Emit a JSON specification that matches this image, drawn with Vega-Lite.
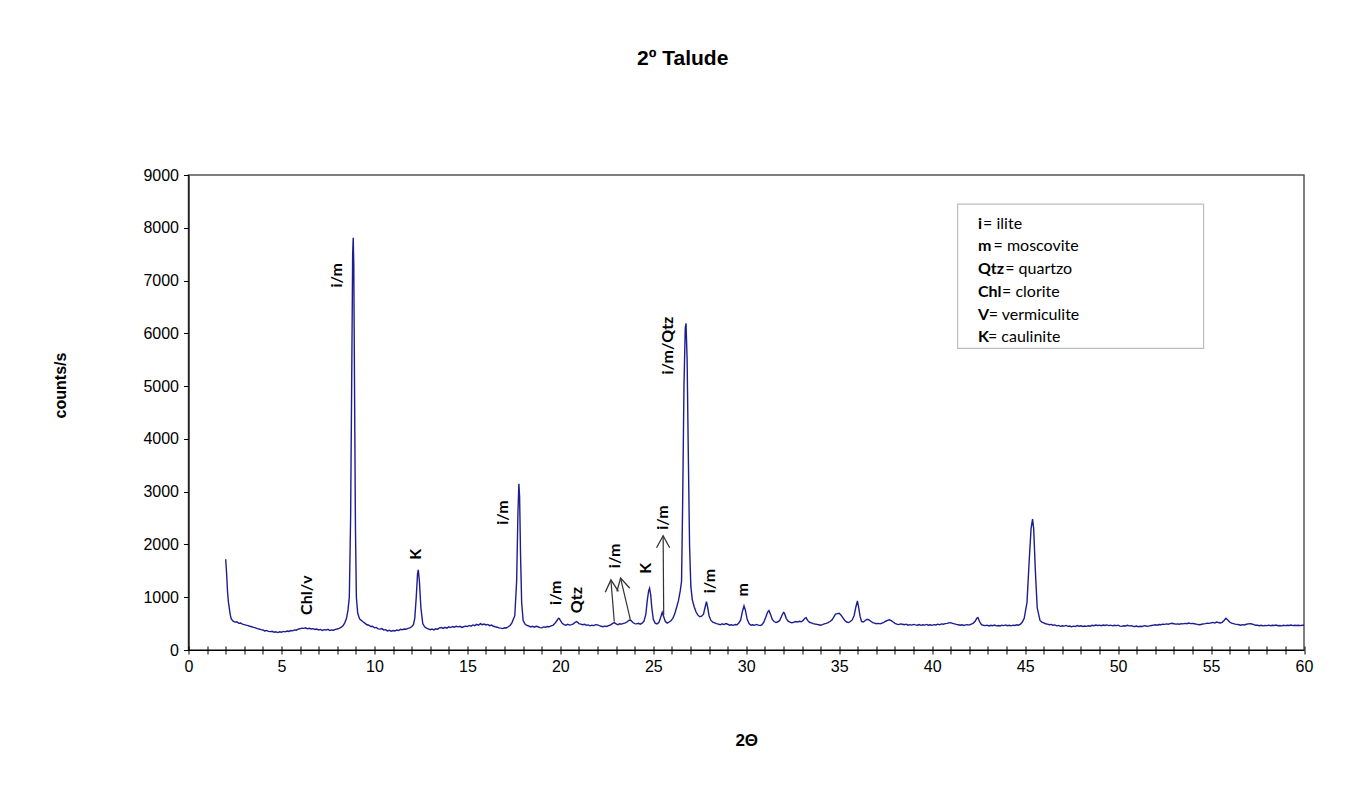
{
  "$schema": "https://vega.github.io/schema/vega-lite/v6.json",
  "width": 1115.5,
  "height": 475,
  "autosize": "none",
  "padding": {"left": 188.5, "top": 175, "right": 42, "bottom": 158},
  "background": "white",
  "config": {
    "view": {"stroke": "#555555", "strokeWidth": 1.5},
    "axis": {"grid": false, "domainColor": "black", "tickColor": "black", "labelColor": "black", "titleColor": "black"}
  },
  "title": {
    "text": "2º Talude",
    "font": "Liberation Sans",
    "fontSize": 21,
    "fontWeight": "bold",
    "color": "black",
    "anchor": "middle",
    "frame": "bounds",
    "offset": 98
  },
  "datasets": {
    "xrd": [
      {"theta": 2.0, "counts": 1720}, {"theta": 2.05, "counts": 1450}, {"theta": 2.1, "counts": 1100}, {"theta": 2.15, "counts": 900},
      {"theta": 2.2, "counts": 780}, {"theta": 2.25, "counts": 660}, {"theta": 2.3, "counts": 590},
      {"theta": 2.4, "counts": 545}, {"theta": 2.5, "counts": 528}, {"theta": 2.6, "counts": 535}, {"theta": 2.7, "counts": 505},
      {"theta": 2.8, "counts": 512}, {"theta": 2.9, "counts": 490}, {"theta": 3.0, "counts": 482}, {"theta": 3.1, "counts": 470},
      {"theta": 3.2, "counts": 462}, {"theta": 3.3, "counts": 450}, {"theta": 3.4, "counts": 441}, {"theta": 3.5, "counts": 428},
      {"theta": 3.6, "counts": 420}, {"theta": 3.7, "counts": 405}, {"theta": 3.8, "counts": 398}, {"theta": 3.9, "counts": 385},
      {"theta": 4.0, "counts": 380}, {"theta": 4.1, "counts": 362}, {"theta": 4.2, "counts": 370}, {"theta": 4.3, "counts": 352},
      {"theta": 4.4, "counts": 348}, {"theta": 4.5, "counts": 355}, {"theta": 4.6, "counts": 338}, {"theta": 4.7, "counts": 344},
      {"theta": 4.8, "counts": 330}, {"theta": 4.9, "counts": 345}, {"theta": 5.0, "counts": 338}, {"theta": 5.1, "counts": 352},
      {"theta": 5.2, "counts": 344}, {"theta": 5.3, "counts": 360}, {"theta": 5.4, "counts": 352}, {"theta": 5.5, "counts": 368},
      {"theta": 5.6, "counts": 362}, {"theta": 5.7, "counts": 380}, {"theta": 5.8, "counts": 375}, {"theta": 5.9, "counts": 395},
      {"theta": 6.0, "counts": 402}, {"theta": 6.1, "counts": 415}, {"theta": 6.2, "counts": 410}, {"theta": 6.3, "counts": 420},
      {"theta": 6.4, "counts": 402}, {"theta": 6.5, "counts": 412}, {"theta": 6.6, "counts": 398}, {"theta": 6.7, "counts": 405},
      {"theta": 6.8, "counts": 390}, {"theta": 6.9, "counts": 398}, {"theta": 7.0, "counts": 380}, {"theta": 7.1, "counts": 390},
      {"theta": 7.2, "counts": 372}, {"theta": 7.3, "counts": 385}, {"theta": 7.4, "counts": 378}, {"theta": 7.5, "counts": 392},
      {"theta": 7.6, "counts": 370}, {"theta": 7.7, "counts": 380}, {"theta": 7.8, "counts": 375}, {"theta": 7.9, "counts": 392},
      {"theta": 8.0, "counts": 398}, {"theta": 8.1, "counts": 410}, {"theta": 8.2, "counts": 428}, {"theta": 8.3, "counts": 455},
      {"theta": 8.4, "counts": 510}, {"theta": 8.5, "counts": 600}, {"theta": 8.58, "counts": 760}, {"theta": 8.65, "counts": 1000},
      {"theta": 8.72, "counts": 2500}, {"theta": 8.78, "counts": 5200}, {"theta": 8.83, "counts": 7500}, {"theta": 8.86, "counts": 7810},
      {"theta": 8.89, "counts": 7300}, {"theta": 8.93, "counts": 5000}, {"theta": 8.98, "counts": 2300}, {"theta": 9.03, "counts": 1000},
      {"theta": 9.1, "counts": 700}, {"theta": 9.2, "counts": 590}, {"theta": 9.3, "counts": 560}, {"theta": 9.4, "counts": 530},
      {"theta": 9.5, "counts": 505}, {"theta": 9.6, "counts": 478}, {"theta": 9.7, "counts": 470}, {"theta": 9.8, "counts": 445},
      {"theta": 9.9, "counts": 450}, {"theta": 10.0, "counts": 420}, {"theta": 10.1, "counts": 428}, {"theta": 10.2, "counts": 400},
      {"theta": 10.3, "counts": 395}, {"theta": 10.4, "counts": 405}, {"theta": 10.5, "counts": 380}, {"theta": 10.6, "counts": 385},
      {"theta": 10.7, "counts": 362}, {"theta": 10.8, "counts": 372}, {"theta": 10.9, "counts": 355}, {"theta": 11.0, "counts": 368},
      {"theta": 11.1, "counts": 360}, {"theta": 11.2, "counts": 378}, {"theta": 11.3, "counts": 370}, {"theta": 11.4, "counts": 392},
      {"theta": 11.5, "counts": 385}, {"theta": 11.6, "counts": 398}, {"theta": 11.7, "counts": 392}, {"theta": 11.8, "counts": 410},
      {"theta": 11.9, "counts": 418}, {"theta": 12.0, "counts": 440}, {"theta": 12.1, "counts": 480}, {"theta": 12.17, "counts": 600},
      {"theta": 12.25, "counts": 1000}, {"theta": 12.32, "counts": 1450}, {"theta": 12.36, "counts": 1520}, {"theta": 12.42, "counts": 1300},
      {"theta": 12.5, "counts": 800}, {"theta": 12.6, "counts": 500}, {"theta": 12.7, "counts": 440}, {"theta": 12.8, "counts": 415},
      {"theta": 12.9, "counts": 400}, {"theta": 13.0, "counts": 385}, {"theta": 13.1, "counts": 398}, {"theta": 13.2, "counts": 380},
      {"theta": 13.3, "counts": 402}, {"theta": 13.4, "counts": 395}, {"theta": 13.5, "counts": 420}, {"theta": 13.6, "counts": 425},
      {"theta": 13.7, "counts": 410}, {"theta": 13.8, "counts": 430}, {"theta": 13.9, "counts": 415}, {"theta": 14.0, "counts": 438},
      {"theta": 14.1, "counts": 425}, {"theta": 14.2, "counts": 445}, {"theta": 14.3, "counts": 432}, {"theta": 14.4, "counts": 450},
      {"theta": 14.5, "counts": 438}, {"theta": 14.6, "counts": 448}, {"theta": 14.7, "counts": 428}, {"theta": 14.8, "counts": 440},
      {"theta": 14.9, "counts": 452}, {"theta": 15.0, "counts": 445}, {"theta": 15.1, "counts": 465}, {"theta": 15.2, "counts": 452},
      {"theta": 15.3, "counts": 475}, {"theta": 15.4, "counts": 462}, {"theta": 15.5, "counts": 485}, {"theta": 15.6, "counts": 470},
      {"theta": 15.7, "counts": 500}, {"theta": 15.8, "counts": 480}, {"theta": 15.9, "counts": 492}, {"theta": 16.0, "counts": 475},
      {"theta": 16.1, "counts": 485}, {"theta": 16.2, "counts": 462}, {"theta": 16.3, "counts": 472}, {"theta": 16.4, "counts": 450},
      {"theta": 16.5, "counts": 440}, {"theta": 16.6, "counts": 432}, {"theta": 16.7, "counts": 420}, {"theta": 16.8, "counts": 415},
      {"theta": 16.9, "counts": 405}, {"theta": 17.0, "counts": 420}, {"theta": 17.1, "counts": 418}, {"theta": 17.2, "counts": 440},
      {"theta": 17.3, "counts": 465}, {"theta": 17.4, "counts": 520}, {"theta": 17.55, "counts": 650}, {"theta": 17.65, "counts": 1300},
      {"theta": 17.72, "counts": 2600}, {"theta": 17.77, "counts": 3150}, {"theta": 17.81, "counts": 2900}, {"theta": 17.86, "counts": 1800},
      {"theta": 17.92, "counts": 900}, {"theta": 18.0, "counts": 560}, {"theta": 18.1, "counts": 490}, {"theta": 18.2, "counts": 465},
      {"theta": 18.3, "counts": 455}, {"theta": 18.4, "counts": 438}, {"theta": 18.5, "counts": 450}, {"theta": 18.6, "counts": 432},
      {"theta": 18.7, "counts": 448}, {"theta": 18.8, "counts": 440}, {"theta": 18.9, "counts": 425}, {"theta": 19.0, "counts": 420},
      {"theta": 19.1, "counts": 438}, {"theta": 19.2, "counts": 430}, {"theta": 19.3, "counts": 445}, {"theta": 19.4, "counts": 440},
      {"theta": 19.5, "counts": 458}, {"theta": 19.6, "counts": 468}, {"theta": 19.7, "counts": 500}, {"theta": 19.8, "counts": 550},
      {"theta": 19.9, "counts": 600}, {"theta": 19.95, "counts": 595}, {"theta": 20.0, "counts": 560}, {"theta": 20.1, "counts": 505},
      {"theta": 20.2, "counts": 480}, {"theta": 20.3, "counts": 470}, {"theta": 20.4, "counts": 488}, {"theta": 20.5, "counts": 472},
      {"theta": 20.6, "counts": 482}, {"theta": 20.7, "counts": 495}, {"theta": 20.8, "counts": 525}, {"theta": 20.87, "counts": 540},
      {"theta": 20.95, "counts": 520}, {"theta": 21.0, "counts": 498}, {"theta": 21.1, "counts": 490}, {"theta": 21.2, "counts": 478},
      {"theta": 21.3, "counts": 488}, {"theta": 21.4, "counts": 468}, {"theta": 21.5, "counts": 475}, {"theta": 21.6, "counts": 458},
      {"theta": 21.7, "counts": 470}, {"theta": 21.8, "counts": 462}, {"theta": 21.9, "counts": 480}, {"theta": 22.0, "counts": 475},
      {"theta": 22.1, "counts": 462}, {"theta": 22.2, "counts": 450}, {"theta": 22.3, "counts": 440}, {"theta": 22.4, "counts": 452},
      {"theta": 22.5, "counts": 445}, {"theta": 22.6, "counts": 460}, {"theta": 22.7, "counts": 475}, {"theta": 22.8, "counts": 500},
      {"theta": 22.9, "counts": 520}, {"theta": 23.0, "counts": 495}, {"theta": 23.1, "counts": 480}, {"theta": 23.2, "counts": 498},
      {"theta": 23.3, "counts": 490}, {"theta": 23.4, "counts": 505}, {"theta": 23.5, "counts": 515}, {"theta": 23.6, "counts": 535},
      {"theta": 23.7, "counts": 565}, {"theta": 23.8, "counts": 560}, {"theta": 23.9, "counts": 520}, {"theta": 24.0, "counts": 500},
      {"theta": 24.1, "counts": 495}, {"theta": 24.2, "counts": 505}, {"theta": 24.3, "counts": 490}, {"theta": 24.4, "counts": 510},
      {"theta": 24.5, "counts": 545}, {"theta": 24.6, "counts": 680}, {"theta": 24.68, "counts": 950}, {"theta": 24.75, "counts": 1120},
      {"theta": 24.8, "counts": 1170}, {"theta": 24.86, "counts": 1050}, {"theta": 24.92, "counts": 800}, {"theta": 25.0, "counts": 580},
      {"theta": 25.1, "counts": 510}, {"theta": 25.2, "counts": 495}, {"theta": 25.3, "counts": 520}, {"theta": 25.4, "counts": 620},
      {"theta": 25.48, "counts": 715}, {"theta": 25.55, "counts": 640}, {"theta": 25.65, "counts": 540}, {"theta": 25.75, "counts": 510},
      {"theta": 25.85, "counts": 530}, {"theta": 25.95, "counts": 555}, {"theta": 26.05, "counts": 600}, {"theta": 26.15, "counts": 680},
      {"theta": 26.25, "counts": 800}, {"theta": 26.35, "counts": 930}, {"theta": 26.45, "counts": 1120}, {"theta": 26.52, "counts": 1300},
      {"theta": 26.58, "counts": 2800}, {"theta": 26.65, "counts": 5000}, {"theta": 26.72, "counts": 6100}, {"theta": 26.76, "counts": 6190},
      {"theta": 26.82, "counts": 5500}, {"theta": 26.88, "counts": 3800}, {"theta": 26.95, "counts": 2000}, {"theta": 27.02, "counts": 1200},
      {"theta": 27.1, "counts": 950}, {"theta": 27.2, "counts": 820}, {"theta": 27.3, "counts": 720}, {"theta": 27.4, "counts": 660},
      {"theta": 27.5, "counts": 630}, {"theta": 27.6, "counts": 640}, {"theta": 27.7, "counts": 680}, {"theta": 27.78, "counts": 800},
      {"theta": 27.86, "counts": 917}, {"theta": 27.93, "counts": 800}, {"theta": 28.0, "counts": 650}, {"theta": 28.1, "counts": 560},
      {"theta": 28.2, "counts": 530}, {"theta": 28.3, "counts": 515}, {"theta": 28.4, "counts": 500}, {"theta": 28.5, "counts": 490},
      {"theta": 28.6, "counts": 478}, {"theta": 28.7, "counts": 495}, {"theta": 28.8, "counts": 482}, {"theta": 28.9, "counts": 500},
      {"theta": 29.0, "counts": 488}, {"theta": 29.1, "counts": 470}, {"theta": 29.2, "counts": 478}, {"theta": 29.3, "counts": 468},
      {"theta": 29.4, "counts": 482}, {"theta": 29.5, "counts": 478}, {"theta": 29.6, "counts": 510}, {"theta": 29.7, "counts": 570},
      {"theta": 29.8, "counts": 740}, {"theta": 29.88, "counts": 835}, {"theta": 29.95, "counts": 760}, {"theta": 30.05, "counts": 580},
      {"theta": 30.15, "counts": 500}, {"theta": 30.25, "counts": 470}, {"theta": 30.35, "counts": 478}, {"theta": 30.45, "counts": 468},
      {"theta": 30.55, "counts": 485}, {"theta": 30.65, "counts": 470}, {"theta": 30.75, "counts": 462}, {"theta": 30.85, "counts": 480},
      {"theta": 30.95, "counts": 530}, {"theta": 31.05, "counts": 620}, {"theta": 31.15, "counts": 720}, {"theta": 31.22, "counts": 746},
      {"theta": 31.3, "counts": 680}, {"theta": 31.4, "counts": 580}, {"theta": 31.5, "counts": 540}, {"theta": 31.6, "counts": 520},
      {"theta": 31.7, "counts": 535}, {"theta": 31.8, "counts": 560}, {"theta": 31.9, "counts": 640}, {"theta": 32.0, "counts": 710},
      {"theta": 32.05, "counts": 700}, {"theta": 32.15, "counts": 600}, {"theta": 32.25, "counts": 545}, {"theta": 32.35, "counts": 530},
      {"theta": 32.45, "counts": 515}, {"theta": 32.55, "counts": 525}, {"theta": 32.65, "counts": 540}, {"theta": 32.75, "counts": 530},
      {"theta": 32.85, "counts": 545}, {"theta": 32.95, "counts": 535}, {"theta": 33.05, "counts": 555}, {"theta": 33.15, "counts": 600},
      {"theta": 33.22, "counts": 614}, {"theta": 33.3, "counts": 560}, {"theta": 33.4, "counts": 525}, {"theta": 33.5, "counts": 515},
      {"theta": 33.6, "counts": 500}, {"theta": 33.7, "counts": 492}, {"theta": 33.8, "counts": 485}, {"theta": 33.9, "counts": 478},
      {"theta": 34.0, "counts": 470}, {"theta": 34.1, "counts": 480}, {"theta": 34.2, "counts": 495}, {"theta": 34.3, "counts": 505},
      {"theta": 34.4, "counts": 520}, {"theta": 34.5, "counts": 540}, {"theta": 34.6, "counts": 565}, {"theta": 34.7, "counts": 620},
      {"theta": 34.8, "counts": 680}, {"theta": 34.9, "counts": 690}, {"theta": 35.0, "counts": 696}, {"theta": 35.1, "counts": 660},
      {"theta": 35.2, "counts": 610}, {"theta": 35.3, "counts": 560}, {"theta": 35.4, "counts": 530}, {"theta": 35.5, "counts": 520},
      {"theta": 35.6, "counts": 540}, {"theta": 35.7, "counts": 570}, {"theta": 35.8, "counts": 650}, {"theta": 35.9, "counts": 820},
      {"theta": 35.98, "counts": 930}, {"theta": 36.05, "counts": 800}, {"theta": 36.12, "counts": 640}, {"theta": 36.2, "counts": 540},
      {"theta": 36.3, "counts": 530}, {"theta": 36.4, "counts": 560}, {"theta": 36.5, "counts": 583}, {"theta": 36.6, "counts": 570},
      {"theta": 36.7, "counts": 545}, {"theta": 36.8, "counts": 520}, {"theta": 36.9, "counts": 510}, {"theta": 37.0, "counts": 498},
      {"theta": 37.1, "counts": 505}, {"theta": 37.2, "counts": 495}, {"theta": 37.3, "counts": 510}, {"theta": 37.4, "counts": 525},
      {"theta": 37.5, "counts": 545}, {"theta": 37.6, "counts": 560}, {"theta": 37.7, "counts": 572}, {"theta": 37.8, "counts": 555},
      {"theta": 37.9, "counts": 530}, {"theta": 38.0, "counts": 505}, {"theta": 38.1, "counts": 490}, {"theta": 38.2, "counts": 482},
      {"theta": 38.3, "counts": 495}, {"theta": 38.4, "counts": 488}, {"theta": 38.5, "counts": 478}, {"theta": 38.6, "counts": 490},
      {"theta": 38.7, "counts": 470}, {"theta": 38.8, "counts": 480}, {"theta": 38.9, "counts": 472}, {"theta": 39.0, "counts": 485},
      {"theta": 39.1, "counts": 475}, {"theta": 39.2, "counts": 470}, {"theta": 39.3, "counts": 482}, {"theta": 39.4, "counts": 468},
      {"theta": 39.5, "counts": 478}, {"theta": 39.6, "counts": 472}, {"theta": 39.7, "counts": 485}, {"theta": 39.8, "counts": 470},
      {"theta": 39.9, "counts": 478}, {"theta": 40.0, "counts": 468}, {"theta": 40.1, "counts": 480}, {"theta": 40.2, "counts": 475},
      {"theta": 40.3, "counts": 490}, {"theta": 40.4, "counts": 478}, {"theta": 40.5, "counts": 495}, {"theta": 40.6, "counts": 488},
      {"theta": 40.7, "counts": 500}, {"theta": 40.8, "counts": 505}, {"theta": 40.9, "counts": 515}, {"theta": 41.0, "counts": 518},
      {"theta": 41.1, "counts": 505}, {"theta": 41.2, "counts": 495}, {"theta": 41.3, "counts": 485}, {"theta": 41.4, "counts": 478},
      {"theta": 41.5, "counts": 470}, {"theta": 41.6, "counts": 478}, {"theta": 41.7, "counts": 465}, {"theta": 41.8, "counts": 475},
      {"theta": 41.9, "counts": 480}, {"theta": 42.0, "counts": 472}, {"theta": 42.1, "counts": 490}, {"theta": 42.2, "counts": 505},
      {"theta": 42.3, "counts": 540}, {"theta": 42.4, "counts": 600}, {"theta": 42.46, "counts": 614}, {"theta": 42.55, "counts": 540},
      {"theta": 42.65, "counts": 480}, {"theta": 42.75, "counts": 468}, {"theta": 42.85, "counts": 462}, {"theta": 42.95, "counts": 470},
      {"theta": 43.05, "counts": 455}, {"theta": 43.15, "counts": 468}, {"theta": 43.25, "counts": 460}, {"theta": 43.35, "counts": 472},
      {"theta": 43.45, "counts": 458}, {"theta": 43.55, "counts": 465}, {"theta": 43.65, "counts": 455}, {"theta": 43.75, "counts": 470},
      {"theta": 43.85, "counts": 462}, {"theta": 43.95, "counts": 475}, {"theta": 44.05, "counts": 460}, {"theta": 44.15, "counts": 468},
      {"theta": 44.25, "counts": 458}, {"theta": 44.35, "counts": 470}, {"theta": 44.45, "counts": 465}, {"theta": 44.55, "counts": 478},
      {"theta": 44.65, "counts": 470}, {"theta": 44.75, "counts": 490}, {"theta": 44.85, "counts": 530}, {"theta": 44.95, "counts": 600},
      {"theta": 45.1, "counts": 900}, {"theta": 45.22, "counts": 1700}, {"theta": 45.32, "counts": 2300}, {"theta": 45.4, "counts": 2480},
      {"theta": 45.46, "counts": 2300}, {"theta": 45.55, "counts": 1500}, {"theta": 45.65, "counts": 800}, {"theta": 45.8, "counts": 560},
      {"theta": 45.9, "counts": 530}, {"theta": 46.0, "counts": 515}, {"theta": 46.1, "counts": 498}, {"theta": 46.2, "counts": 490},
      {"theta": 46.3, "counts": 478}, {"theta": 46.4, "counts": 485}, {"theta": 46.5, "counts": 470}, {"theta": 46.6, "counts": 475},
      {"theta": 46.7, "counts": 458}, {"theta": 46.8, "counts": 465}, {"theta": 46.9, "counts": 448}, {"theta": 47.0, "counts": 460},
      {"theta": 47.1, "counts": 452}, {"theta": 47.2, "counts": 465}, {"theta": 47.3, "counts": 448}, {"theta": 47.4, "counts": 455},
      {"theta": 47.5, "counts": 440}, {"theta": 47.6, "counts": 452}, {"theta": 47.7, "counts": 445}, {"theta": 47.8, "counts": 462},
      {"theta": 47.9, "counts": 450}, {"theta": 48.0, "counts": 458}, {"theta": 48.1, "counts": 445}, {"theta": 48.2, "counts": 455},
      {"theta": 48.3, "counts": 448}, {"theta": 48.4, "counts": 460}, {"theta": 48.5, "counts": 452}, {"theta": 48.6, "counts": 468},
      {"theta": 48.7, "counts": 460}, {"theta": 48.8, "counts": 472}, {"theta": 48.9, "counts": 465}, {"theta": 49.0, "counts": 470},
      {"theta": 49.1, "counts": 460}, {"theta": 49.2, "counts": 472}, {"theta": 49.3, "counts": 465}, {"theta": 49.4, "counts": 475},
      {"theta": 49.5, "counts": 462}, {"theta": 49.6, "counts": 470}, {"theta": 49.7, "counts": 458}, {"theta": 49.8, "counts": 468},
      {"theta": 49.9, "counts": 462}, {"theta": 50.0, "counts": 470}, {"theta": 50.1, "counts": 452}, {"theta": 50.2, "counts": 448},
      {"theta": 50.3, "counts": 460}, {"theta": 50.4, "counts": 455}, {"theta": 50.5, "counts": 468}, {"theta": 50.6, "counts": 458},
      {"theta": 50.7, "counts": 462}, {"theta": 50.8, "counts": 450}, {"theta": 50.9, "counts": 445}, {"theta": 51.0, "counts": 455},
      {"theta": 51.1, "counts": 440}, {"theta": 51.2, "counts": 450}, {"theta": 51.3, "counts": 445}, {"theta": 51.4, "counts": 462},
      {"theta": 51.5, "counts": 455}, {"theta": 51.6, "counts": 448}, {"theta": 51.7, "counts": 458}, {"theta": 51.8, "counts": 465},
      {"theta": 51.9, "counts": 472}, {"theta": 52.0, "counts": 478}, {"theta": 52.1, "counts": 470}, {"theta": 52.2, "counts": 482},
      {"theta": 52.3, "counts": 478}, {"theta": 52.4, "counts": 490}, {"theta": 52.5, "counts": 485}, {"theta": 52.6, "counts": 495},
      {"theta": 52.7, "counts": 488}, {"theta": 52.8, "counts": 500}, {"theta": 52.9, "counts": 506}, {"theta": 53.0, "counts": 498},
      {"theta": 53.1, "counts": 490}, {"theta": 53.2, "counts": 495}, {"theta": 53.3, "counts": 488}, {"theta": 53.4, "counts": 500},
      {"theta": 53.5, "counts": 495}, {"theta": 53.6, "counts": 505}, {"theta": 53.7, "counts": 498}, {"theta": 53.8, "counts": 510},
      {"theta": 53.9, "counts": 500}, {"theta": 54.0, "counts": 505}, {"theta": 54.1, "counts": 498}, {"theta": 54.2, "counts": 490},
      {"theta": 54.3, "counts": 482}, {"theta": 54.4, "counts": 478}, {"theta": 54.5, "counts": 488}, {"theta": 54.6, "counts": 495},
      {"theta": 54.7, "counts": 500}, {"theta": 54.8, "counts": 508}, {"theta": 54.9, "counts": 505}, {"theta": 55.0, "counts": 515},
      {"theta": 55.1, "counts": 522}, {"theta": 55.2, "counts": 510}, {"theta": 55.3, "counts": 530}, {"theta": 55.4, "counts": 520},
      {"theta": 55.5, "counts": 512}, {"theta": 55.6, "counts": 525}, {"theta": 55.7, "counts": 560}, {"theta": 55.8, "counts": 600},
      {"theta": 55.9, "counts": 570}, {"theta": 56.0, "counts": 530}, {"theta": 56.1, "counts": 510}, {"theta": 56.2, "counts": 500},
      {"theta": 56.3, "counts": 490}, {"theta": 56.4, "counts": 485}, {"theta": 56.5, "counts": 478}, {"theta": 56.6, "counts": 470},
      {"theta": 56.7, "counts": 480}, {"theta": 56.8, "counts": 475}, {"theta": 56.9, "counts": 488}, {"theta": 57.0, "counts": 495},
      {"theta": 57.1, "counts": 500}, {"theta": 57.2, "counts": 492}, {"theta": 57.3, "counts": 480}, {"theta": 57.4, "counts": 470},
      {"theta": 57.5, "counts": 468}, {"theta": 57.6, "counts": 460}, {"theta": 57.7, "counts": 468}, {"theta": 57.8, "counts": 458},
      {"theta": 57.9, "counts": 465}, {"theta": 58.0, "counts": 462}, {"theta": 58.1, "counts": 470}, {"theta": 58.2, "counts": 460},
      {"theta": 58.3, "counts": 468}, {"theta": 58.4, "counts": 465}, {"theta": 58.5, "counts": 472}, {"theta": 58.6, "counts": 460},
      {"theta": 58.7, "counts": 465}, {"theta": 58.8, "counts": 458}, {"theta": 58.9, "counts": 468}, {"theta": 59.0, "counts": 462},
      {"theta": 59.1, "counts": 470}, {"theta": 59.2, "counts": 465}, {"theta": 59.3, "counts": 472}, {"theta": 59.4, "counts": 462},
      {"theta": 59.5, "counts": 468}, {"theta": 59.6, "counts": 465}, {"theta": 59.7, "counts": 470}, {"theta": 59.8, "counts": 462},
      {"theta": 59.9, "counts": 468}, {"theta": 60.0, "counts": 470}
    ],
    "peaks": [
      {"theta": 6.35, "counts": 665, "label": "Chl/v"},
      {"theta": 7.97, "counts": 6867, "label": "i/m"},
      {"theta": 12.23, "counts": 1709, "label": "K"},
      {"theta": 16.93, "counts": 2373, "label": "i/m"},
      {"theta": 19.76, "counts": 854, "label": "i/m"},
      {"theta": 20.87, "counts": 697, "label": "Qtz"},
      {"theta": 22.93, "counts": 1551, "label": "i/m"},
      {"theta": 24.63, "counts": 1443, "label": "K"},
      {"theta": 25.53, "counts": 2278, "label": "i/m"},
      {"theta": 25.8, "counts": 5221, "label": "i/m/Qtz"},
      {"theta": 28.04, "counts": 1076, "label": "i/m"},
      {"theta": 29.83, "counts": 1012, "label": "m"}
    ],
    "arrows": [
      {"id": 1, "theta": 22.9, "counts": 541, "theta2": 22.72, "counts2": 1329},
      {"id": 2, "theta": 23.77, "counts": 570, "theta2": 23.24, "counts2": 1361},
      {"id": 3, "theta": 25.56, "counts": 664, "theta2": 25.53, "counts2": 2164}
    ],
    "keybox": [
      {"theta": 41.37, "theta2": 54.6, "counts": 8449, "counts2": 5715}
    ],
    "key": [
      {"code": "i", "text": "= ilite", "theta": 42.46, "theta2": 42.74, "counts": 8079},
      {"code": "m", "text": "= moscovite", "theta": 42.46, "theta2": 43.3, "counts": 7651},
      {"code": "Qtz", "text": "= quartzo", "theta": 42.46, "theta2": 43.93, "counts": 7215},
      {"code": "Chl", "text": "= clorite", "theta": 42.46, "theta2": 43.76, "counts": 6788},
      {"code": "V", "text": "= vermiculite", "theta": 42.46, "theta2": 43.04, "counts": 6351},
      {"code": "K", "text": "= caulinite", "theta": 42.46, "theta2": 43.0, "counts": 5924}
    ]
  },
  "layer": [
    {
      "data": {"name": "keybox"},
      "mark": {"type": "rect", "fill": "white", "stroke": "#bdbdbd", "strokeWidth": 1.2},
      "encoding": {
        "x": {"field": "theta", "type": "quantitative", "scale": {"domain": [0, 60], "nice": false, "zero": false}, "axis": null},
        "x2": {"field": "theta2"},
        "y": {"field": "counts", "type": "quantitative", "scale": {"domain": [0, 9000], "nice": false}},
        "y2": {"field": "counts2"}
      }
    },
    {
      "data": {"name": "xrd"},
      "mark": {"type": "line", "color": "#1d1d8f", "strokeWidth": 1.4},
      "encoding": {
        "x": {
          "field": "theta", "type": "quantitative",
          "scale": {"domain": [0, 60], "nice": false, "zero": false},
          "axis": {
            "title": "2Θ",
            "values": [0,1,2,3,4,5,6,7,8,9,10,11,12,13,14,15,16,17,18,19,20,21,22,23,24,25,26,27,28,29,30,31,32,33,34,35,36,37,38,39,40,41,42,43,44,45,46,47,48,49,50,51,52,53,54,55,56,57,58,59,60],
            "labelExpr": "datum.value % 5 === 0 ? datum.label : ''",
            "labelFont": "Liberation Sans", "labelFontSize": 16, "labelPadding": 4,
            "labelOverlap": false, "labelFlush": false,
            "tickSize": 4, "tickWidth": 1, "domainWidth": 1.2,
            "titleFont": "Liberation Sans", "titleFontSize": 17, "titleFontWeight": "bold",
            "titlePadding": 58
          }
        },
        "y": {
          "field": "counts", "type": "quantitative",
          "scale": {"domain": [0, 9000], "nice": false},
          "axis": {
            "title": "counts/s",
            "values": [0,1000,2000,3000,4000,5000,6000,7000,8000,9000],
            "format": "d",
            "labelFont": "Liberation Sans", "labelFontSize": 16, "labelPadding": 5,
            "tickSize": 5, "tickWidth": 1, "domainWidth": 1.2,
            "titleFont": "Liberation Sans", "titleFontSize": 16, "titleFontWeight": "bold",
            "titleX": -128, "titleY": 210, "titleAlign": "center", "titleBaseline": "middle"
          }
        }
      }
    },
    {
      "data": {"name": "peaks"},
      "mark": {"type": "text", "angle": 270, "align": "left", "baseline": "middle", "font": "Lato", "fontSize": 16, "fontWeight": "bold", "color": "black"},
      "encoding": {
        "x": {
          "field": "theta", "type": "quantitative",
          "scale": {"domain": [0, 60], "nice": false, "zero": false},
          "axis": {
            "orient": "top", "offset": -475, "domain": false, "labels": false, "title": null,
            "values": [0,1,2,3,4,5,6,7,8,9,10,11,12,13,14,15,16,17,18,19,20,21,22,23,24,25,26,27,28,29,30,31,32,33,34,35,36,37,38,39,40,41,42,43,44,45,46,47,48,49,50,51,52,53,54,55,56,57,58,59,60],
            "tickSize": 4, "tickWidth": 1
          }
        },
        "y": {"field": "counts", "type": "quantitative", "scale": {"domain": [0, 9000], "nice": false}},
        "text": {"field": "label"}
      }
    },
    {
      "data": {"name": "arrows"},
      "mark": {"type": "rule", "color": "#333333", "strokeWidth": 1.2},
      "encoding": {
        "x": {"field": "theta", "type": "quantitative", "scale": {"domain": [0, 60], "nice": false, "zero": false}, "axis": null},
        "y": {"field": "counts", "type": "quantitative", "scale": {"domain": [0, 9000], "nice": false}},
        "x2": {"field": "theta2"},
        "y2": {"field": "counts2"}
      }
    },
    {
      "data": {"name": "arrows"},
      "transform": [{"filter": "datum.id === 1"}],
      "mark": {"type": "point", "shape": "M-0.55,1L0,0L0.55,1", "size": 576, "angle": -4.5, "filled": false, "stroke": "#333333", "strokeWidth": 1.3, "opacity": 1},
      "encoding": {
        "x": {"field": "theta2", "type": "quantitative", "scale": {"domain": [0, 60], "nice": false, "zero": false}, "axis": null},
        "y": {"field": "counts2", "type": "quantitative", "scale": {"domain": [0, 9000], "nice": false}}
      }
    },
    {
      "data": {"name": "arrows"},
      "transform": [{"filter": "datum.id === 2"}],
      "mark": {"type": "point", "shape": "M-0.55,1L0,0L0.55,1", "size": 576, "angle": -13.5, "filled": false, "stroke": "#333333", "strokeWidth": 1.3, "opacity": 1},
      "encoding": {
        "x": {"field": "theta2", "type": "quantitative", "scale": {"domain": [0, 60], "nice": false, "zero": false}, "axis": null},
        "y": {"field": "counts2", "type": "quantitative", "scale": {"domain": [0, 9000], "nice": false}}
      }
    },
    {
      "data": {"name": "arrows"},
      "transform": [{"filter": "datum.id === 3"}],
      "mark": {"type": "point", "shape": "M-0.55,1L0,0L0.55,1", "size": 576, "angle": 0, "filled": false, "stroke": "#333333", "strokeWidth": 1.3, "opacity": 1},
      "encoding": {
        "x": {"field": "theta2", "type": "quantitative", "scale": {"domain": [0, 60], "nice": false, "zero": false}, "axis": null},
        "y": {"field": "counts2", "type": "quantitative", "scale": {"domain": [0, 9000], "nice": false}}
      }
    },
    {
      "data": {"name": "key"},
      "mark": {"type": "text", "align": "left", "baseline": "middle", "font": "Lato", "fontSize": 16, "fontWeight": "bold", "color": "black"},
      "encoding": {
        "x": {"field": "theta", "type": "quantitative", "scale": {"domain": [0, 60], "nice": false, "zero": false}, "axis": null},
        "y": {"field": "counts", "type": "quantitative", "scale": {"domain": [0, 9000], "nice": false}},
        "text": {"field": "code"}
      }
    },
    {
      "data": {"name": "key"},
      "mark": {"type": "text", "align": "left", "baseline": "middle", "font": "Lato", "fontSize": 16, "color": "black"},
      "encoding": {
        "x": {"field": "theta2", "type": "quantitative", "scale": {"domain": [0, 60], "nice": false, "zero": false}, "axis": null},
        "y": {"field": "counts", "type": "quantitative", "scale": {"domain": [0, 9000], "nice": false}},
        "text": {"field": "text"}
      }
    }
  ],
  "resolve": {"axis": {"x": "independent"}}
}
